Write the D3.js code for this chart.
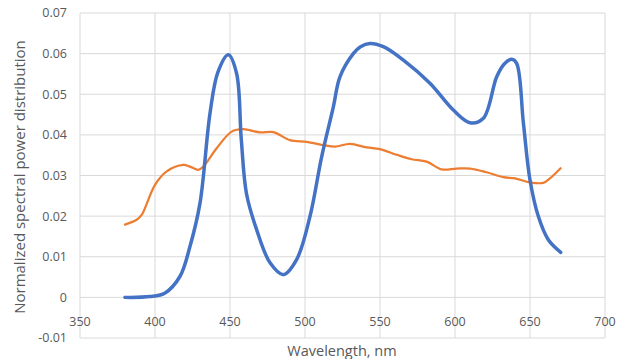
<!DOCTYPE html>
<html><head><meta charset="utf-8">
<script src="https://cdn.jsdelivr.net/npm/d3@7"></script>
<style>body{margin:0;background:#fff}text{font-family:"Open Sans",sans-serif}</style>
</head><body><svg id="c" width="630" height="359"></svg>
<script>
const xTicks=[350,400,450,500,550,600,650,700];
const yTicks=[-0.01,0,0.01,0.02,0.03,0.04,0.05,0.06,0.07];
const blueX=[380,396.7,406.7,416.7,423.3,430,436.7,442,448.9,454.4,457.5,461,467.8,476.7,485.6,494.4,503.3,511.1,518.9,523.3,532.2,537,543.3,552.2,565.6,583.3,598.9,610,618.9,627.8,633,637.8,641.1,645.6,650,655.6,662.2,670.5];
const blueY=[0,0.0002,0.0011,0.0052,0.0125,0.0232,0.0454,0.0555,0.0597,0.0551,0.039,0.0255,0.0166,0.0085,0.0056,0.0093,0.0199,0.0346,0.0469,0.0543,0.06,0.0617,0.0625,0.0617,0.0584,0.0527,0.0461,0.043,0.0441,0.0543,0.0575,0.0586,0.0576,0.0429,0.0289,0.0199,0.0142,0.0111];
const orangeX=[380,387.8,391.1,400,407.8,418.9,423.3,428.9,432.2,441.1,451.1,458.9,470,478.9,490,501.1,512.2,520,530,541.1,550,561.1,571.1,581.1,591.1,601.1,610,621.1,632.2,640,650,658.9,663.3,670.4];
const orangeY=[0.0179,0.0191,0.0203,0.0277,0.0310,0.0326,0.0322,0.0314,0.0322,0.0367,0.0408,0.0414,0.0406,0.0407,0.0387,0.0383,0.0375,0.0371,0.0378,0.0369,0.0365,0.0351,0.0340,0.0334,0.0315,0.0317,0.0317,0.0308,0.0296,0.0293,0.0283,0.0282,0.0293,0.0318];

const svg=d3.select("#c");
const x=d3.scaleLinear().domain([350,700]).range([80,605]);
const y=d3.scaleLinear().domain([-0.01,0.07]).range([338,13]);
const fmt=d=>d===0?"0":String(+d.toFixed(2));
svg.append("g").selectAll("line").data(yTicks).join("line")
 .attr("x1",80).attr("x2",605).attr("y1",d=>y(d)).attr("y2",d=>y(d))
 .attr("stroke","#d9d9d9").attr("stroke-width",1);
svg.append("g").selectAll("line").data(xTicks).join("line")
 .attr("y1",13).attr("y2",338).attr("x1",d=>x(d)).attr("x2",d=>x(d))
 .attr("stroke","#d9d9d9").attr("stroke-width",1);
svg.append("g").selectAll("text").data(yTicks).join("text")
 .attr("x",67).attr("y",d=>y(d)).attr("dy","0.35em").attr("text-anchor","end")
 .attr("font-size",12.5).attr("fill","#595959").text(fmt);
svg.append("g").selectAll("text").data(xTicks).join("text")
 .attr("x",d=>x(d)).attr("y",322).attr("dy","0.35em").attr("text-anchor","middle")
 .attr("font-size",12.5).attr("fill","#595959").text(d=>d);
svg.append("text").attr("transform","translate(20,177) rotate(-90)").attr("text-anchor","middle")
 .attr("dy","0.35em").attr("font-size",15).attr("fill","#595959").text("Normalized spectral power distribution");
svg.append("text").attr("x",342).attr("y",351).attr("dy","0.35em").attr("text-anchor","middle")
 .attr("font-size",14.5).attr("fill","#595959").text("Wavelength, nm");
const line=d3.line().x(d=>x(d[0])).y(d=>y(d[1])).curve(d3.curveCatmullRom.alpha(0.5));
svg.append("path").attr("d",line(orangeX.map((v,i)=>[v,orangeY[i]])))
 .attr("fill","none").attr("stroke","#ED7D31").attr("stroke-width",2.25).attr("stroke-linejoin","round").attr("stroke-linecap","round");
svg.append("path").attr("d",line(blueX.map((v,i)=>[v,blueY[i]])))
 .attr("fill","none").attr("stroke","#4472C4").attr("stroke-width",3.5).attr("stroke-linejoin","round").attr("stroke-linecap","round");
</script></body></html>
